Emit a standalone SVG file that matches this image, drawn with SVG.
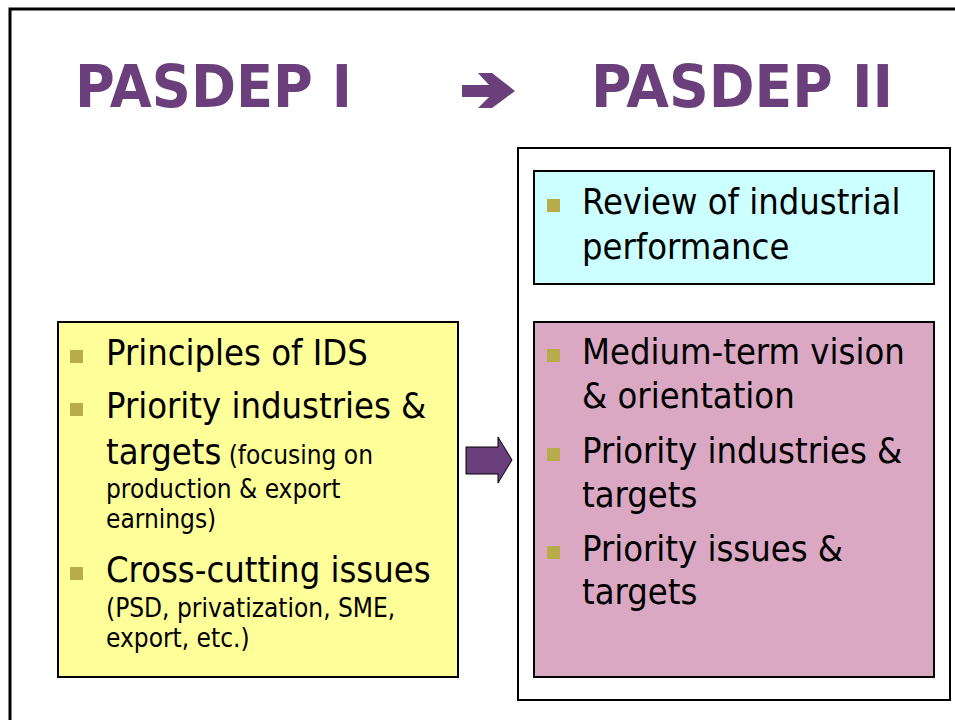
<svg xmlns="http://www.w3.org/2000/svg" width="955" height="720" viewBox="0 0 955 720">
<style>
.title{font-family:"DejaVu Sans",Verdana,sans-serif;font-weight:bold;font-size:59px;fill:#6B3F7B}
.big{font-family:"DejaVu Sans Condensed","DejaVu Sans",sans-serif;font-stretch:condensed;font-size:36px;fill:#000}
.small{font-size:26px}
.box{stroke:#000;stroke-width:2}
.bul{fill:#B8AC4A}
</style>
<rect width="955" height="720" fill="#fff"/>
<path d="M10 722 V9 H957" fill="none" stroke="#000" stroke-width="3"/>
<g id="title-left"><text class="title" x="75" y="107" textLength="277" lengthAdjust="spacingAndGlyphs">PASDEP I</text></g>
<g id="title-arrow"><polygon points="462,85 489,85 478,73 492,73 515,91 492,108 478,108 489,97 462,97" fill="#6B3F7B"/></g>
<g id="title-right"><text class="title" x="591" y="107" textLength="302" lengthAdjust="spacingAndGlyphs">PASDEP II</text></g>

<g id="pasdep1">
<rect class="box" x="58" y="322" width="400" height="355" fill="#FFFF99"/>
<rect class="bul" x="70" y="350" width="13" height="13"/>
<rect class="bul" x="70" y="403" width="13" height="13"/>
<rect class="bul" x="70" y="567" width="13" height="13"/>
<text class="big" x="106" y="365">Principles of IDS</text>
<text class="big" x="106" y="418">Priority industries &amp;</text>
<text class="big" x="106" y="464">targets<tspan class="small"> (focusing on</tspan></text>
<text class="big small" x="106" y="498">production &amp; export</text>
<text class="big small" x="106" y="528">earnings)</text>
<text class="big" x="106" y="582">Cross-cutting issues</text>
<text class="big small" x="106" y="617">(PSD, privatization, SME,</text>
<text class="big small" x="106" y="647">export, etc.)</text>
</g>

<g id="connectors">
<polygon points="466,447 498,447 498,437 512,460 498,483 498,474 466,474" fill="#6B3F7B" stroke="#000" stroke-width="1"/>
</g>

<g id="pasdep2">
<rect class="box" x="518" y="148" width="432" height="552" fill="#fff"/>
</g>
<g id="review">
<rect class="box" x="534" y="171" width="400" height="113" fill="#CCFFFF"/>
<rect class="bul" x="547" y="199" width="13" height="13"/>
<text class="big" x="582" y="214">Review of industrial</text>
<text class="big" x="582" y="259">performance</text>
</g>
<g id="plan">
<rect class="box" x="534" y="322" width="400" height="355" fill="#DAA8C3"/>
<rect class="bul" x="547" y="349" width="13" height="13"/>
<rect class="bul" x="547" y="448" width="13" height="13"/>
<rect class="bul" x="547" y="546" width="13" height="13"/>
<text class="big" x="582" y="364">Medium-term vision</text>
<text class="big" x="582" y="408">&amp; orientation</text>
<text class="big" x="582" y="463">Priority industries &amp;</text>
<text class="big" x="582" y="507">targets</text>
<text class="big" x="582" y="561">Priority issues &amp;</text>
<text class="big" x="582" y="604">targets</text>
</g>
</svg>
